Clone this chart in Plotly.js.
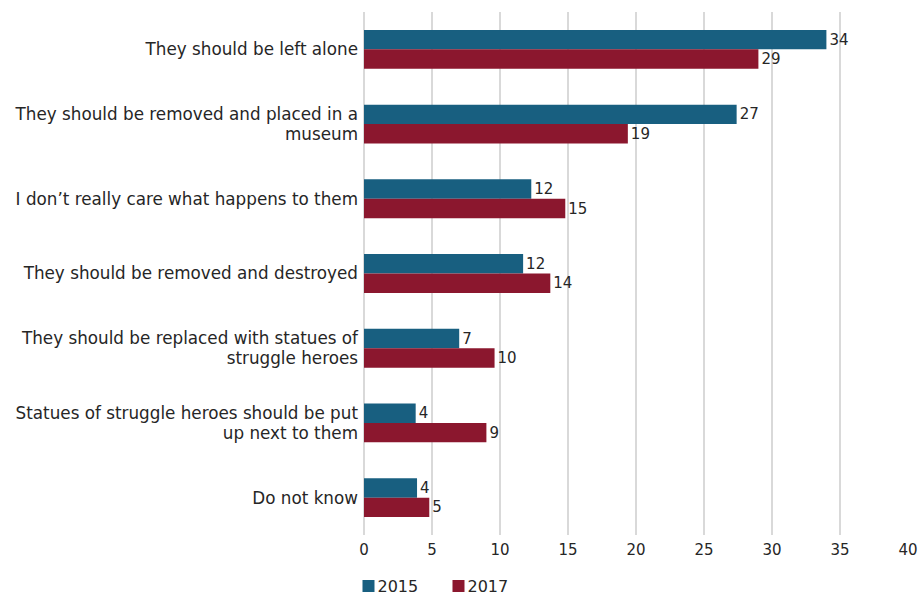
<!DOCTYPE html>
<html>
<head>
<meta charset="utf-8">
<script src="https://cdn.plot.ly/plotly-3.0.1.min.js"></script>
<style>html,body{margin:0;padding:0;background:#fff;}#chart{width:919px;height:596px;}</style>
</head>
<body>
<div id="chart"></div>
<script>
const categories = [
  "They should be left alone",
  "They should be removed and placed in a<br>museum",
  "I don’t really care what happens to them",
  "They should be removed and destroyed",
  "They should be replaced with statues of<br>struggle heroes",
  "Statues of struggle heroes should be put<br>up next to them",
  "Do not know"
];
const values2015 = [34.0, 27.4, 12.3, 11.7, 7.0, 3.8, 3.9];
const values2017 = [29.0, 19.4, 14.8, 13.7, 9.6, 9.0, 4.8];
const labels2015 = ["34", "27", "12", "12", "7", "4", "4"];
const labels2017 = ["29", "19", "15", "14", "10", "9", "5"];
const seriesNames = ["2015", "2017"];
const xTicks = [0, 5, 10, 15, 20, 25, 30, 35, 40];

const FAMILY = "DejaVu Sans, Verdana, sans-serif";
const INK = "#262626";

const traces = [
  {type: "bar", orientation: "h", name: seriesNames[0], y: categories, x: values2015,
   text: labels2015, textposition: "outside", constraintext: "none", cliponaxis: false,
   textfont: {family: FAMILY, size: 15, color: INK},
   marker: {color: "#185F80"}, hoverinfo: "x+name"},
  {type: "bar", orientation: "h", name: seriesNames[1], y: categories, x: values2017,
   text: labels2017, textposition: "outside", constraintext: "none", cliponaxis: false,
   textfont: {family: FAMILY, size: 15, color: INK},
   marker: {color: "#8B172E"}, hoverinfo: "x+name"}
];

const layout = {
  width: 919, height: 596,
  margin: {l: 364, r: 11, t: 12, b: 61, autoexpand: false},
  paper_bgcolor: "#fff", plot_bgcolor: "#fff",
  font: {family: FAMILY, size: 15, color: INK},
  barmode: "group",
  bargap: 0.48,
  bargroupgap: 0,
  xaxis: {range: [0, 40], tickvals: xTicks, showgrid: true, gridcolor: "#d9d9d9", gridwidth: 2,
          zeroline: true, zerolinecolor: "#d9d9d9", zerolinewidth: 2, showline: false,
          ticks: "", ticklabelstandoff: 4, tickfont: {family: FAMILY, size: 15, color: INK}, fixedrange: true},
  yaxis: {autorange: "reversed", type: "category", showgrid: false, zeroline: false, showline: false,
          ticks: "", ticklabelstandoff: 5, tickfont: {family: FAMILY, size: 16.8, color: INK}, fixedrange: true},
  showlegend: true,
  legend: {orientation: "h", x: -0.0285, xanchor: "left", y: -0.0975, yanchor: "middle",
           font: {family: FAMILY, size: 16, color: INK}, traceorder: "normal",
           entrywidth: 45, tracegroupgap: 0, bgcolor: "rgba(0,0,0,0)"}
};

Plotly.newPlot("chart", traces, layout, {displayModeBar: false, staticPlot: true}).then(function (gd) {
  // tighten the gap between legend swatch and legend text
  gd.querySelectorAll(".legend .legendtext").forEach(function (t) {
    t.setAttribute("x", 29);
    t.querySelectorAll("tspan.line").forEach(function (s) { s.setAttribute("x", 29); });
  });
  // slightly tighter line spacing for wrapped category labels
  const S = 1.18, P = 1.3;
  gd.querySelectorAll(".ytick text").forEach(function (t) {
    const lines = t.querySelectorAll("tspan.line");
    const n = lines.length;
    if (n > 1) {
      lines.forEach(function (s, i) {
        s.setAttribute("dy", (i * S + (n - 1) * (P - S) / 2) + "em");
      });
    }
  });
});
</script>
</body>
</html>
